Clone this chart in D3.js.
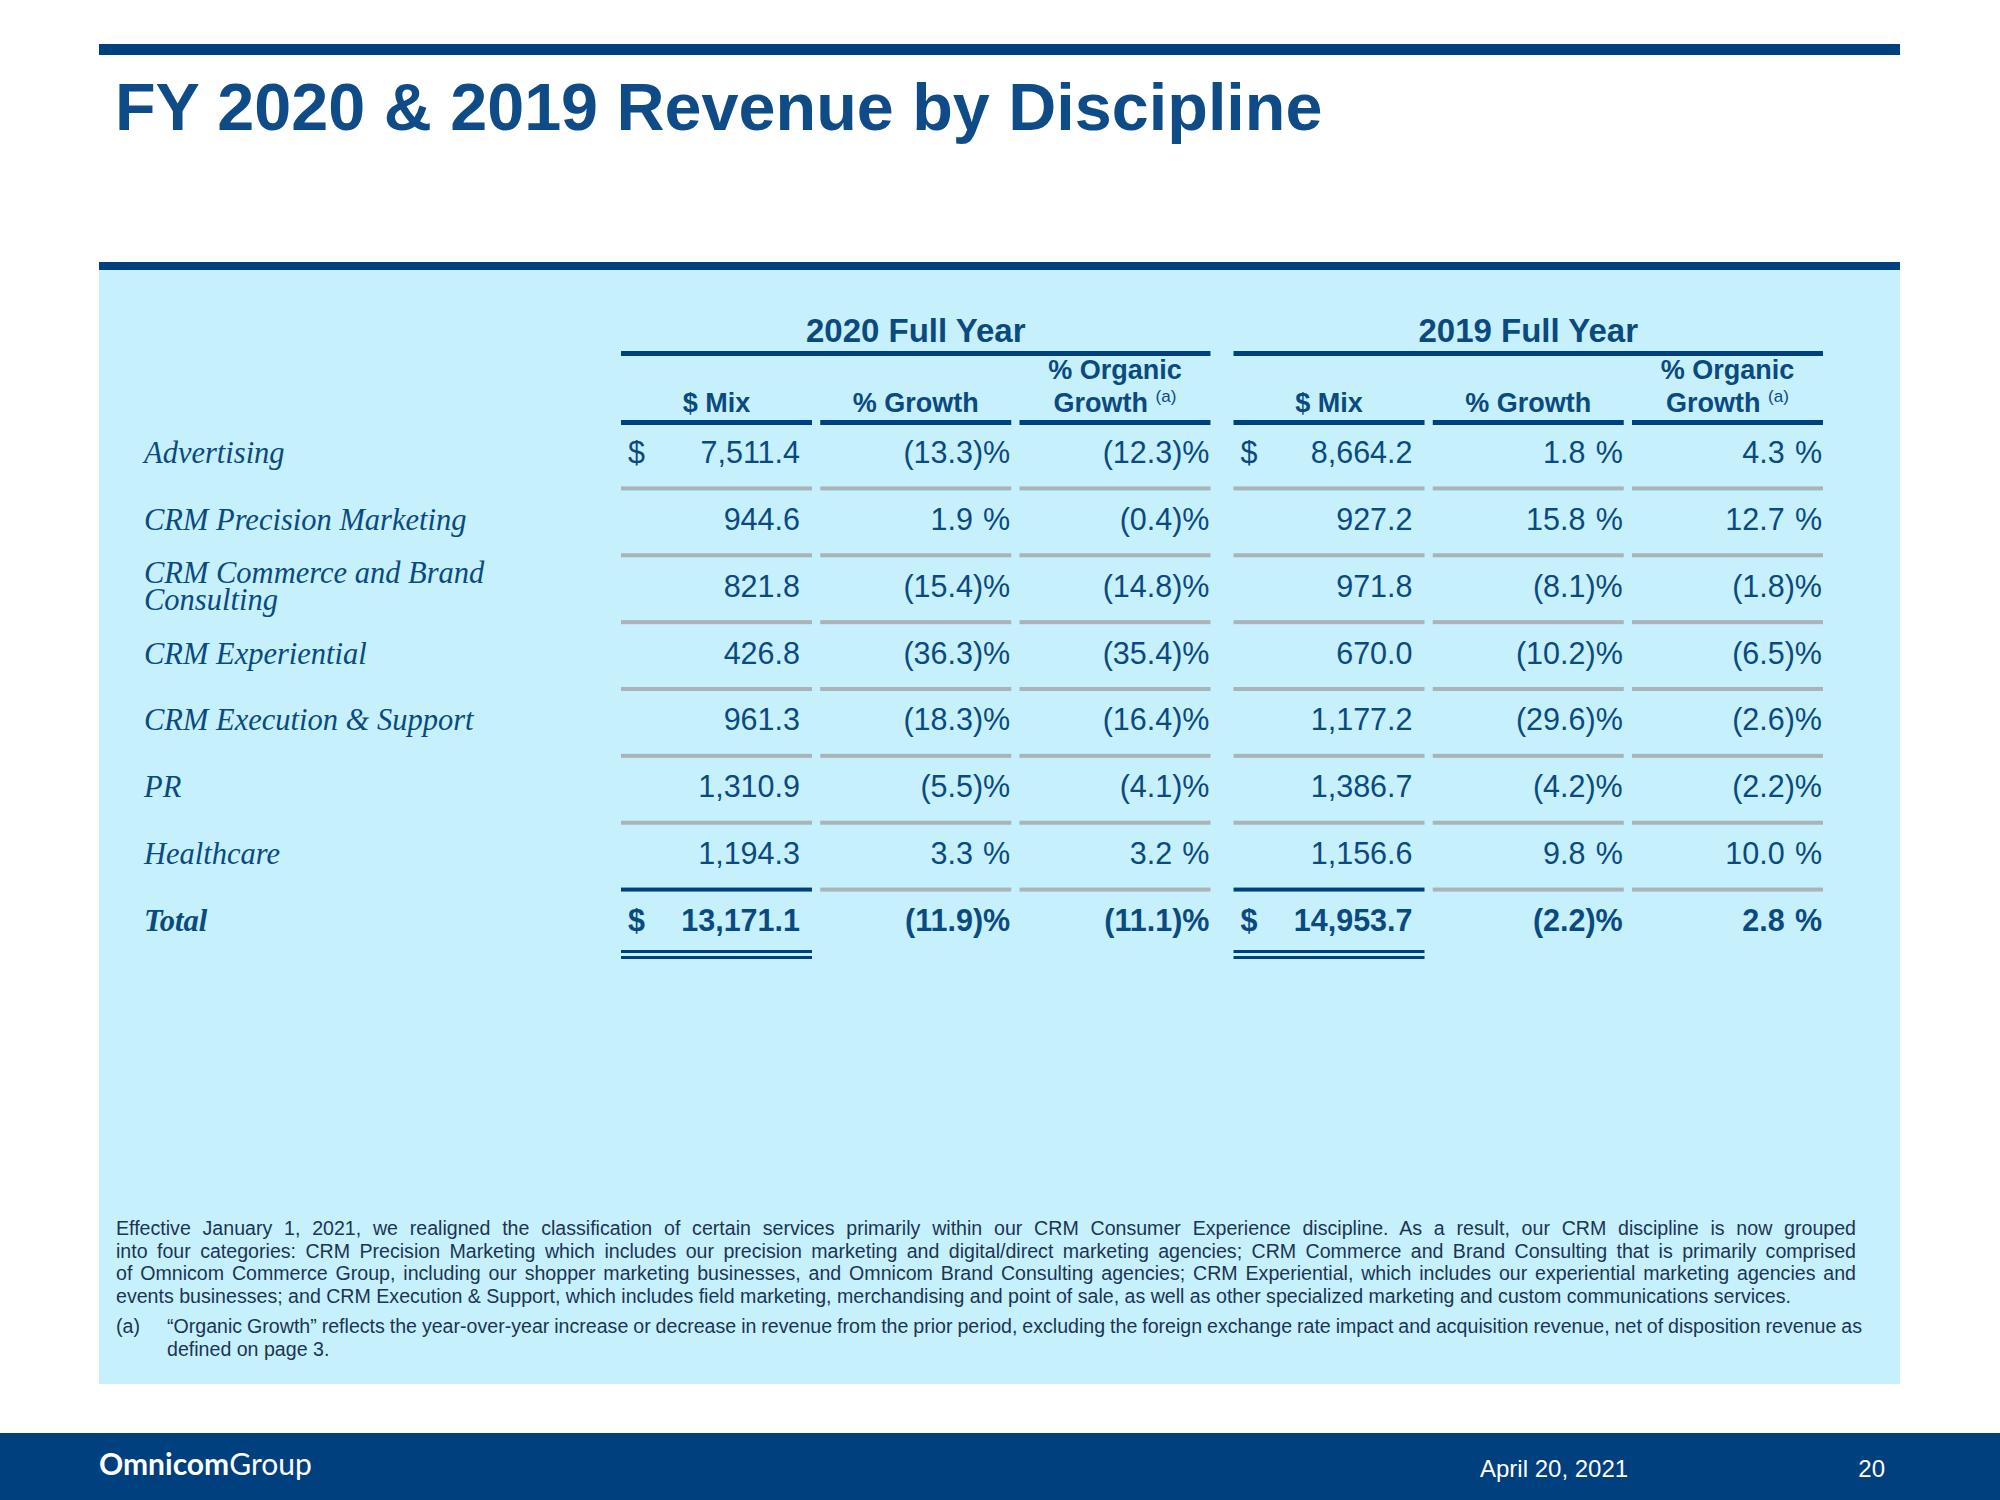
<!DOCTYPE html>
<meta charset="utf-8">
<script src="https://d3js.org/d3.v7.min.js"></script>
<style>
  body { margin: 0; background: #fff; }
  text { font-family: "Liberation Sans", Arial, sans-serif; }
</style>
<div id="slide"></div>
<script>
  // table data (US$ millions, %)
  var disciplines = ["Advertising", "CRM Precision Marketing", "CRM Commerce and Brand Consulting",
    "CRM Experiential", "CRM Execution & Support", "PR", "Healthcare"];
  var mix2020 = [7511.4, 944.6, 821.8, 426.8, 961.3, 1310.9, 1194.3];
  var growth2020 = [-13.3, 1.9, -15.4, -36.3, -18.3, -5.5, 3.3];
  var organic2020 = [-12.3, -0.4, -14.8, -35.4, -16.4, -4.1, 3.2];
  var mix2019 = [8664.2, 927.2, 971.8, 670.0, 1177.2, 1386.7, 1156.6];
  var growth2019 = [1.8, 15.8, -8.1, -10.2, -29.6, -4.2, 9.8];
  var organic2019 = [4.3, 12.7, -1.8, -6.5, -2.6, -2.2, 10.0];
  var totalLabel = "Total";
  var total2020 = [13171.1, -11.9, -11.1];
  var total2019 = [14953.7, -2.2, 2.8];

  var years = ["2020 Full Year", "2019 Full Year"];
  var columns = ["$ Mix", "% Growth", "% Organic Growth"];

  var title = "FY 2020 & 2019 Revenue by Discipline";
  var notes = [
    ["Effective January 1, 2021, we realigned the classification of certain services primarily within our CRM Consumer Experience discipline. As a result, our CRM discipline is now grouped",
     "into four categories: CRM Precision Marketing which includes our precision marketing and digital/direct marketing agencies; CRM Commerce and Brand Consulting that is primarily comprised",
     "of Omnicom Commerce Group, including our shopper marketing businesses, and Omnicom Brand Consulting agencies; CRM Experiential, which includes our experiential marketing agencies and",
     "events businesses; and CRM Execution & Support, which includes field marketing, merchandising and point of sale, as well as other specialized marketing and custom communications services."],
    ["\u201cOrganic Growth\u201d reflects the year-over-year increase or decrease in revenue from the prior period, excluding the foreign exchange rate impact and acquisition revenue, net of disposition revenue as",
     "defined on page 3."]
  ];
  var footerDate = "April 20, 2021";
  var pageNo = "20";

  var W = 2000, H = 1500;
  var dark = "#00407E", ink = "#0B4A7E", pale = "#C6F0FC", rule = "#A9B3B8";

  var svg = d3.select("#slide").append("svg")
    .attr("width", W).attr("height", H);

  // slide frame
  svg.append("rect").attr("x", 99).attr("y", 44).attr("width", 1801).attr("height", 11).attr("fill", dark);
  svg.append("text").attr("x", 115).attr("y", 130)
    .attr("font-size", 66.5).attr("font-weight", "bold").attr("fill", "#0F4C87")
    .text(title);
  svg.append("rect").attr("x", 99).attr("y", 262).attr("width", 1801).attr("height", 8).attr("fill", dark);
  svg.append("rect").attr("x", 99).attr("y", 270).attr("width", 1801).attr("height", 1114).attr("fill", pale);

  // scales
  var xYear = d3.scaleBand().domain(years).range([621, 1823]).paddingInner(0.0376);
  var xCol = d3.scaleBand().domain(columns).range([0, xYear.bandwidth()]).paddingInner(0.0414);
  var rows = disciplines.concat([totalLabel]);
  var y = d3.scalePoint().domain(rows).range([463, 931]);
  var step = y.step();

  var fmtMix = d3.format(",.1f");
  var fmtPct = d3.format(".1f");
  var valSize = 30.5;
  var labSize = 30.5;
  var serif = "'Liberation Serif', Georgia, serif";

  var table = svg.append("g");

  // year headers + rules
  years.forEach(function (yr) {
    var x0 = xYear(yr);
    table.append("text").attr("x", x0 + xYear.bandwidth() / 2).attr("y", 342)
      .attr("text-anchor", "middle").attr("font-size", 33).attr("font-weight", "bold").attr("fill", ink)
      .text(yr);
    table.append("rect").attr("x", x0).attr("y", 351).attr("width", xYear.bandwidth()).attr("height", 5).attr("fill", dark);
    columns.forEach(function (c) {
      var cx = x0 + xCol(c) + xCol.bandwidth() / 2;
      var hd = table.append("text").attr("text-anchor", "middle").attr("font-size", 27)
        .attr("font-weight", "bold").attr("fill", ink);
      if (c === "% Organic Growth") {
        hd.append("tspan").attr("x", cx).attr("y", 379).text("% Organic");
        var t2 = hd.append("tspan").attr("x", cx).attr("y", 412);
        t2.append("tspan").text("Growth ");
        t2.append("tspan").attr("font-size", 17).attr("font-weight", "normal").attr("dy", -10).text("(a)");
      } else {
        hd.attr("x", cx).attr("y", 412).text(c);
      }
      table.append("rect").attr("x", x0 + xCol(c)).attr("y", 420)
        .attr("width", xCol.bandwidth()).attr("height", 5).attr("fill", dark);
    });
  });

  // body rows
  var series = {};
  series[years[0]] = [mix2020, growth2020, organic2020, total2020];
  series[years[1]] = [mix2019, growth2019, organic2019, total2019];

  function pctCell(g, xr, yb, v, bold) {
    var t = g.append("text").attr("x", xr).attr("y", yb).attr("text-anchor", "end")
      .attr("font-size", valSize).attr("fill", ink).attr("font-weight", bold ? "bold" : "normal");
    if (v < 0) {
      t.text("(" + fmtPct(-v) + ")%");
    } else {
      t.append("tspan").text(fmtPct(v));
      t.append("tspan").attr("fill-opacity", 0).text(")");
      t.append("tspan").text("%");
    }
  }

  rows.forEach(function (r, i) {
    var yb = y(r);
    var isTotal = r === totalLabel;
    // row label, wrapped to two lines when too long
    var lab = table.append("text").attr("x", 144).attr("y", yb)
      .attr("font-size", labSize).attr("font-style", "italic").attr("fill", ink)
      .style("font-family", serif)
      .attr("font-weight", isTotal ? "bold" : "normal")
      .text(r);
    if (lab.node().getComputedTextLength() > 400) {
      var words = r.split(" "), line1 = [], rest = [];
      words.forEach(function (w) {
        if (rest.length === 0) {
          lab.text(line1.concat([w]).join(" "));
          if (lab.node().getComputedTextLength() > 400) rest.push(w); else line1.push(w);
        } else rest.push(w);
      });
      lab.text(null);
      lab.append("tspan").attr("x", 144).attr("y", yb - 14).text(line1.join(" "));
      lab.append("tspan").attr("x", 144).attr("y", yb + 13).text(rest.join(" "));
    }

    years.forEach(function (yr) {
      var s = series[yr];
      var x0 = xYear(yr);
      var vals = isTotal ? s[3] : [s[0][i], s[1][i], s[2][i]];
      columns.forEach(function (c, j) {
        var left = x0 + xCol(c), right = left + xCol.bandwidth();
        if (j === 0) {
          if (i === 0 || isTotal) {
            table.append("text").attr("x", left + 7).attr("y", yb).attr("font-size", valSize)
              .attr("fill", ink).attr("font-weight", isTotal ? "bold" : "normal").text("$");
          }
          table.append("text").attr("x", right - 12).attr("y", yb).attr("text-anchor", "end")
            .attr("font-size", valSize).attr("fill", ink).attr("font-weight", isTotal ? "bold" : "normal")
            .text(fmtMix(vals[0]));
        } else {
          pctCell(table, right - 1, yb, vals[j], isTotal);
        }
        // rule under the row
        if (!isTotal) {
          var nextTotal = rows[i + 1] === totalLabel;
          table.append("rect").attr("x", left).attr("y", yb + step / 2 - 10)
            .attr("width", xCol.bandwidth()).attr("height", 4)
            .attr("fill", nextTotal && j === 0 ? dark : rule);
        } else if (j === 0) {
          table.append("rect").attr("x", left).attr("y", yb + 19).attr("width", xCol.bandwidth()).attr("height", 3).attr("fill", dark);
          table.append("rect").attr("x", left).attr("y", yb + 25).attr("width", xCol.bandwidth()).attr("height", 3).attr("fill", dark);
        }
      });
    });
  });

  // footnotes, justified
  var noteSize = 19.6;
  function justifiedPara(lines, x0, x1, y0, lh) {
    lines.forEach(function (ln, k) {
      var t = svg.append("text").attr("x", x0).attr("y", y0 + k * lh)
        .attr("font-size", noteSize).attr("fill", "#1B3553").text(ln);
      if (k < lines.length - 1) {
        var w = t.node().getComputedTextLength();
        var gaps = ln.split(" ").length - 1;
        t.style("word-spacing", ((x1 - x0 - w) / gaps) + "px");
      }
    });
  }
  justifiedPara(notes[0], 116, 1856, 1235, 22.6);
  svg.append("text").attr("x", 116).attr("y", 1333).attr("font-size", noteSize).attr("fill", "#1B3553").text("(a)");
  justifiedPara(notes[1], 167, 1862, 1333, 23);

  // footer band
  svg.append("rect").attr("x", 0).attr("y", 1433).attr("width", W).attr("height", H - 1433).attr("fill", dark);
  var logo = svg.append("text").attr("x", 99).attr("y", 1475).attr("font-size", 30).attr("fill", "#fff")
    .style("font-family", "Lato, sans-serif");
  logo.append("tspan").attr("font-weight", "bold").text("Omnicom");
  logo.append("tspan").attr("font-weight", "normal").text("Group");
  svg.append("text").attr("x", 1480).attr("y", 1477).attr("font-size", 24).attr("fill", "#fff").text(footerDate);
  svg.append("text").attr("x", 1885).attr("y", 1477).attr("text-anchor", "end").attr("font-size", 24).attr("fill", "#fff").text(pageNo);
</script>
